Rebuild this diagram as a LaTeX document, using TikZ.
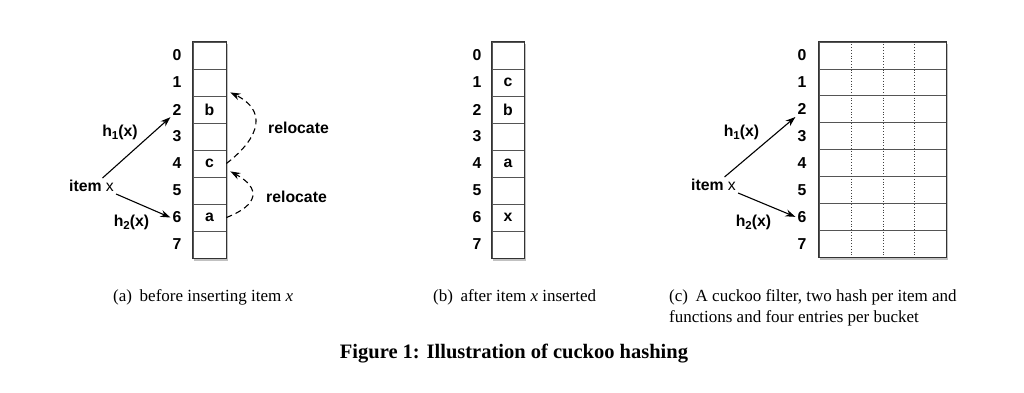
\documentclass[tikz,border=0pt]{standalone}
\usepackage{fontspec}
\setmainfont{Liberation Serif}
\newfontfamily\labfont{Liberation Sans}
\usetikzlibrary{arrows.meta,shadows,calc,backgrounds}
\definecolor{tabline}{HTML}{333333}
\definecolor{rowline}{HTML}{555555}
\begin{document}
\begin{tikzpicture}[x=1pt,y=-1pt,
  lab/.style={font=\labfont\bfseries\fontsize{15.8}{17}\selectfont, inner sep=2pt},
  cella/.style={draw=rowline, line width=0.8pt, minimum width=33pt, minimum height=27pt, inner sep=0pt, font=\labfont\bfseries\fontsize{15.8}{17}\selectfont},
  cellb/.style={cella, minimum width=32pt},
  cellc/.style={cella, minimum width=127pt, minimum height=26.9pt},
  frame/.style={draw=tabline, line width=1.5pt},
  shadowbox/.style={fill=white, drop shadow={shadow xshift=1.8pt, shadow yshift=-2.2pt, opacity=0.4, fill=black!60}},
  harrow/.style={-{Stealth[length=10pt,width=7pt]}, line width=1.1pt, black},
  reloc/.style={-{Stealth[length=10pt,width=7pt]}, line width=1.1pt, black, dash pattern=on 6pt off 4pt},
  sep/.style={dotted, line width=0.8pt, black!75},
  captext/.style={font=\fontsize{17}{21}\selectfont, inner sep=0pt, anchor=west},
]
\begin{scope}[on background layer]
  \fill[white] (0,0) rectangle (1024,392);
\end{scope}
\useasboundingbox (0,0) rectangle (1024,392);

% ---------- panel (a)
\foreach \i/\t in {0/{},1/{},2/b,3/{},4/c,5/{},6/a,7/{}}{
  \node[cella] (a\i) at (209.5,{42+27*\i+13.5}) {\t};
  \node[lab] (ia\i) at (177,{42+27*\i+13.5}) {\i};
}
\begin{scope}[on background layer]
  \path[shadowbox] (a0.north west) rectangle (a7.south east);
\end{scope}
\draw[frame] (a0.north west) rectangle (a7.south east);

\node[lab] (itema) at (91.5,186) {item \mdseries x};
\node[lab] (h1a) at (120,132) {h\raisebox{-0.35ex}{\fontsize{11.5}{12}\selectfont 1}(x)};
\node[lab] (h2a) at (131.5,222) {h\raisebox{-0.35ex}{\fontsize{11.5}{12}\selectfont 2}(x)};
\draw[harrow] ([xshift=11pt]itema.north) -- (ia2.south west);
\draw[harrow] (itema.south east) -- (ia6.west);

\node[lab] (rel1) at (298.5,128) {relocate};
\node[lab] (rel2) at (296.5,197) {relocate};
\draw[reloc] (a4.east) .. controls (262,136) and (266,110) .. ([xshift=4pt,yshift=4pt]a1.south east);
\draw[reloc] (a6.east) .. controls (259,205) and (261,188) .. ([xshift=4pt,yshift=6pt]a4.south east);

% ---------- panel (b)
\foreach \i/\t in {0/{},1/c,2/b,3/{},4/a,5/{},6/x,7/{}}{
  \node[cellb] (b\i) at (508,{42+27*\i+13.5}) {\t};
  \node[lab] (ib\i) at (477,{42+27*\i+13.5}) {\i};
}
\begin{scope}[on background layer]
  \path[shadowbox] (b0.north west) rectangle (b7.south east);
\end{scope}
\draw[frame] (b0.north west) rectangle (b7.south east);

% ---------- panel (c)
\foreach \i in {0,...,7}{
  \node[cellc] (c\i) at (882.5,{42+26.9*\i+13.45}) {};
  \node[lab] (ic\i) at (802,{42+26.9*\i+13.45}) {\i};
}
\begin{scope}[on background layer]
  \path[shadowbox] (c0.north west) rectangle (c7.south east);
\end{scope}
\foreach \f in {0.26,0.505,0.75}{
  \draw[sep] ($(c0.north west)!\f!(c0.north east)$) -- ($(c7.south west)!\f!(c7.south east)$);
}
\draw[frame] (c0.north west) rectangle (c7.south east);

\node[lab] (itemc) at (713.5,185) {item \mdseries x};
\node[lab] (h1c) at (741.5,132) {h\raisebox{-0.35ex}{\fontsize{11.5}{12}\selectfont 1}(x)};
\node[lab] (h2c) at (753.5,222) {h\raisebox{-0.35ex}{\fontsize{11.5}{12}\selectfont 2}(x)};
\draw[harrow] ([xshift=11pt]itemc.north) -- (ic2.south west);
\draw[harrow] (itemc.south east) -- (ic6.west);

% ---------- captions
\node[captext] (capa) at (113,297) {(a)\hspace{0.45em}before inserting item \textit{x}};
\node[captext] (capb) at (433,297) {(b)\hspace{0.45em}after item \textit{x} inserted};
\node[captext, align=left] (capc) at (669,308) {(c)\hspace{0.45em}A cuckoo filter, two hash per item and\\functions and four entries per bucket};
\node[font=\bfseries\fontsize{20.5}{24}\selectfont, inner sep=0pt] (title) at (514,354) {Figure 1: Illustration of cuckoo hashing};
\end{tikzpicture}
\end{document}
